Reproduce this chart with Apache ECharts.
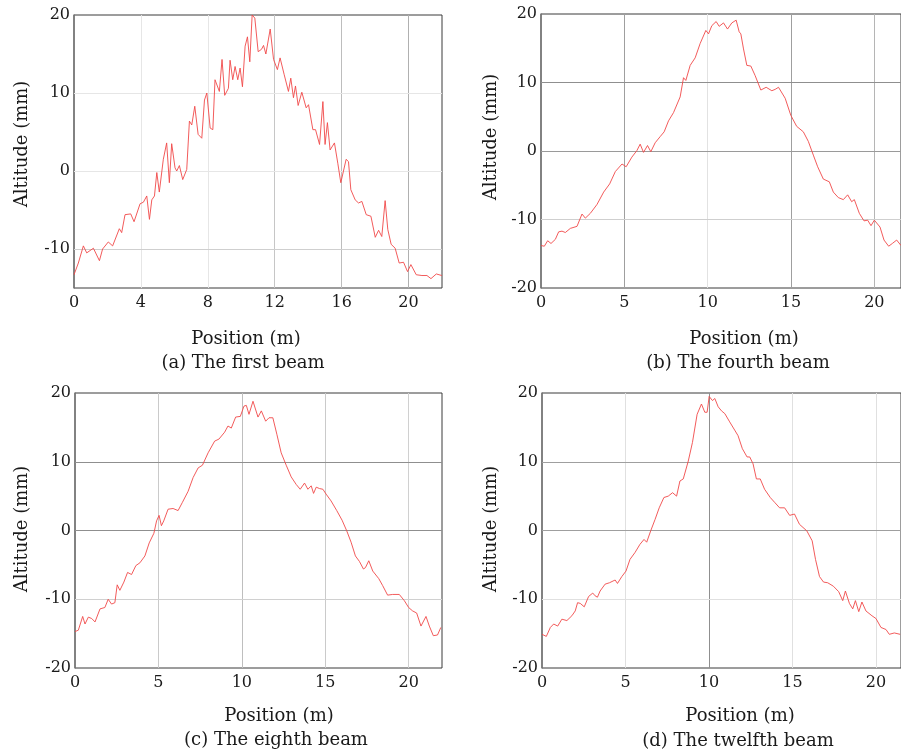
<!DOCTYPE html>
<html>
<head>
<meta charset="utf-8">
<script src="https://cdn.jsdelivr.net/npm/echarts@6/dist/echarts.min.js"></script>
<style>
  html, body { margin: 0; padding: 0; background: #fff; }
  #chart { width: 901px; height: 754px; }
</style>
</head>
<body>
<div id="chart"></div>
<script>
// Beam altitude profiles: position along the beam (m) and measured altitude (mm)
const beam1Pos = [0,0.26,0.56,0.76,1.16,1.52,1.71,2.05,2.31,2.71,2.85,3.05,3.39,3.59,3.95,4.15,4.35,4.51,4.65,4.81,4.95,5.10,5.34,5.54,5.70,5.84,6.04,6.14,6.30,6.50,6.74,6.90,7.04,7.22,7.42,7.64,7.80,7.94,8.14,8.30,8.43,8.69,8.85,9.01,9.23,9.33,9.49,9.63,9.79,9.93,10.07,10.23,10.37,10.51,10.65,10.81,11.01,11.21,11.33,11.47,11.73,11.93,12.16,12.32,12.56,12.82,12.96,13.12,13.24,13.40,13.62,13.88,14.02,14.28,14.44,14.68,14.88,15.01,15.15,15.31,15.57,15.77,15.95,16.27,16.41,16.55,16.81,17.01,17.21,17.47,17.75,18.01,18.21,18.40,18.60,18.76,18.96,19.20,19.44,19.70,19.94,20.14,20.46,20.80,21.10,21.34,21.66,21.99];
const beam1Alt = [-13.3,-11.8,-9.6,-10.5,-9.9,-11.5,-10,-9.1,-9.6,-7.4,-7.9,-5.6,-5.5,-6.5,-4.2,-4.0,-3.2,-6.2,-3.7,-3.2,-0.2,-2.7,1.5,3.6,-1.5,3.5,0.4,0,0.7,-1.1,0.2,6.4,5.9,8.3,4.7,4.2,9.1,10,5.5,5.3,11.7,10.2,14.3,9.7,10.6,14.2,11.7,13.4,11.7,13.2,10.8,16,17.2,14,20,19.6,15.3,15.6,16.1,15,18.2,14.3,13,14.5,12.4,10.2,11.9,9.4,10.9,8.4,10.1,8.1,8.5,5.3,5.3,3.4,8.9,3.4,6.2,2.7,3.6,1.0,-1.5,1.5,1.2,-2.4,-3.7,-4.1,-3.9,-5.6,-5.8,-8.5,-7.6,-8.4,-3.8,-7.5,-9.4,-9.9,-11.8,-11.7,-12.9,-12,-13.3,-13.4,-13.4,-13.8,-13.2,-13.4];

const beam4Pos = [0,0.20,0.40,0.60,0.86,1.06,1.26,1.46,1.76,2.16,2.46,2.66,2.96,3.36,3.76,4.12,4.46,4.86,5.11,5.45,5.75,5.95,6.15,6.39,6.59,6.85,7.15,7.39,7.65,7.95,8.35,8.55,8.69,8.95,9.25,9.55,9.89,10.05,10.25,10.51,10.69,10.95,11.19,11.45,11.71,11.89,11.99,12.15,12.35,12.59,12.85,13.19,13.51,13.85,14.05,14.25,14.65,14.99,15.34,15.74,16.04,16.34,16.60,16.94,17.30,17.54,17.84,18.14,18.40,18.64,18.80,19.10,19.38,19.60,19.80,20.00,20.34,20.58,20.86,21.08,21.34,21.60];
const beam4Alt = [-13.8,-13.9,-13.1,-13.5,-12.9,-11.8,-11.7,-11.9,-11.3,-11.0,-9.2,-9.8,-9.1,-7.8,-6.0,-4.8,-3.0,-1.9,-2.3,-0.9,0.05,1.0,-0.2,0.8,-0.1,1.2,2.1,2.8,4.4,5.6,7.9,10.7,10.3,12.5,13.6,15.7,17.6,17.1,18.3,18.9,18.2,18.7,17.8,18.7,19.1,17.4,17.1,14.9,12.5,12.4,11.0,8.9,9.3,8.8,9.0,9.3,7.7,5.2,3.6,2.8,1.4,-0.6,-2.3,-4.1,-4.5,-6.0,-6.8,-7.1,-6.4,-7.4,-7.1,-9.1,-10.2,-10.1,-10.9,-10.1,-11.1,-13.0,-13.9,-13.5,-13.0,-13.8];

const beam8Pos = [0,0.20,0.46,0.60,0.80,1.00,1.20,1.50,1.79,1.99,2.19,2.39,2.53,2.69,2.93,3.15,3.39,3.65,3.89,4.19,4.45,4.73,4.89,5.04,5.18,5.32,5.58,5.88,6.18,6.44,6.78,7.08,7.38,7.64,7.98,8.37,8.63,8.97,9.17,9.37,9.63,9.91,10.13,10.27,10.43,10.67,10.97,11.17,11.43,11.63,11.86,12.10,12.36,12.66,12.96,13.26,13.50,13.76,13.96,14.16,14.30,14.46,14.66,14.86,15.05,15.35,15.69,16.01,16.29,16.55,16.81,17.05,17.29,17.41,17.61,17.85,18.21,18.44,18.74,19.04,19.44,19.74,20.00,20.24,20.48,20.74,21.04,21.24,21.48,21.73,21.93];
const beam8Alt = [-14.7,-14.5,-12.5,-13.6,-12.6,-12.8,-13.3,-11.4,-11.2,-10.0,-10.7,-10.5,-7.9,-8.7,-7.5,-6.1,-6.4,-5.1,-4.7,-3.7,-1.8,-0.4,1.4,2.2,0.7,1.4,3.1,3.2,2.9,4.1,5.7,7.7,9.1,9.5,11.3,13.0,13.3,14.3,15.2,14.9,16.5,16.6,18.1,18.2,16.9,18.8,16.5,17.4,15.9,16.4,16.4,14.0,11.3,9.5,7.8,6.7,6.0,6.9,6.0,6.5,5.4,6.3,6.1,6.0,5.3,4.3,2.9,1.5,-0.05,-1.7,-3.7,-4.5,-5.6,-5.4,-4.4,-5.9,-7.0,-8.0,-9.4,-9.3,-9.3,-10.2,-11.2,-11.7,-12.0,-13.9,-12.5,-13.9,-15.3,-15.2,-14.1];

const beam12Pos = [0,0.26,0.50,0.70,0.94,1.19,1.49,1.79,1.99,2.13,2.29,2.53,2.79,3.04,3.18,3.32,3.48,3.78,4.04,4.38,4.52,4.78,5.03,5.27,5.57,5.87,6.11,6.27,6.51,6.77,7.02,7.30,7.56,7.82,8.06,8.26,8.46,8.76,9.01,9.29,9.55,9.75,9.89,10.01,10.21,10.35,10.55,10.75,10.95,11.24,11.54,11.74,12.00,12.28,12.44,12.64,12.84,13.07,13.33,13.67,13.93,14.23,14.53,14.83,15.12,15.42,15.86,16.18,16.38,16.62,16.86,17.11,17.45,17.77,18.01,18.17,18.41,18.61,18.77,18.97,19.16,19.40,19.50,19.76,20.00,20.30,20.60,20.80,21.10,21.45];
const beam12Alt = [-15.1,-15.4,-14.1,-13.6,-13.9,-12.9,-13.1,-12.4,-11.7,-10.5,-10.6,-11.1,-9.6,-9.1,-9.5,-9.7,-8.8,-7.8,-7.6,-7.2,-7.7,-6.7,-5.9,-4.2,-3.2,-2.0,-1.3,-1.7,-0.05,1.6,3.3,4.8,5.0,5.5,5.0,7.2,7.5,10.1,12.8,16.9,18.4,17.2,17.2,19.5,18.9,19.2,18.0,17.4,17.0,15.8,14.6,13.8,11.9,10.7,10.7,9.7,7.5,7.5,6.0,4.8,4.1,3.3,3.3,2.2,2.4,0.9,-0.05,-1.5,-4.2,-6.7,-7.5,-7.6,-8.1,-8.9,-10.2,-8.8,-10.6,-11.4,-10.2,-11.8,-10.4,-11.7,-11.5,-12.4,-12.8,-14.1,-14.4,-15.1,-14.9,-15.1];

// Grid-line positions (tick values) for each panel
const beam1XTicks = [4, 8, 12, 16, 20];
const beam1YTicks = [-10, 0, 10];
const beam4XTicks = [5, 10, 15, 20];
const beam4YTicks = [-10, 0, 10];
const beam8XTicks = [5, 10, 15, 20];
const beam8YTicks = [-10, 0, 10];
const beam12XTicks = [5, 10, 15, 20];
const beam12YTicks = [-10, 0, 10];

const captions = ['(a) The first beam', '(b) The fourth beam', '(c) The eighth beam', '(d) The twelfth beam'];
const xTitle = 'Position (m)';
const yTitle = 'Altitude (mm)';

const FONT = '"DejaVu Serif", "Liberation Serif", serif';
const INK = '#1a1a1a';

const panels = [
  { pos: beam1Pos, alt: beam1Alt, xTicks: beam1XTicks, yTicks: beam1YTicks,
    box: { left: 74, top: 15, width: 368, height: 273 },
    xMax: 22, xStep: 4, yMin: -15, yStep: 5,
    xColors: ['#e6e6e6', '#e6e6e6', '#c6c6c6', '#bdbdbd', '#b0b0b0'],
    yColors: ['#cfcfcf', '#e6e6e6', '#e6e6e6'],
    yTitleAt: [22, 144], xTitleAt: [246, 339], capAt: [243, 363] },
  { pos: beam4Pos, alt: beam4Alt, xTicks: beam4XTicks, yTicks: beam4YTicks,
    box: { left: 541, top: 14, width: 360, height: 274 },
    xMax: 21.6, xStep: 5, yMin: -20, yStep: 10,
    xColors: ['#9f9f9f', '#e2e2e2', '#9f9f9f', '#b5b5b5'],
    yColors: ['#cfcfcf', '#9a9a9a', '#8f8f8f'],
    yTitleAt: [491, 137], xTitleAt: [744, 339], capAt: [738, 363] },
  { pos: beam8Pos, alt: beam8Alt, xTicks: beam8XTicks, yTicks: beam8YTicks,
    box: { left: 75, top: 393, width: 367, height: 275 },
    xMax: 22, xStep: 5, yMin: -20, yStep: 10,
    xColors: ['#cacaca', '#bebebe', '#cacaca', '#d0d0d0'],
    yColors: ['#d0d0d0', '#8f8f8f', '#8f8f8f'],
    yTitleAt: [22, 529], xTitleAt: [279, 716], capAt: [276, 740] },
  { pos: beam12Pos, alt: beam12Alt, xTicks: beam12XTicks, yTicks: beam12YTicks,
    box: { left: 542, top: 393, width: 359, height: 275 },
    xMax: 21.5, xStep: 5, yMin: -20, yStep: 10,
    xColors: ['#e0e0e0', '#8f8f8f', '#e0e0e0', '#e0e0e0'],
    yColors: ['#e0e0e0', '#9f9f9f', '#9f9f9f'],
    yTitleAt: [491, 529], xTitleAt: [740, 716], capAt: [738, 741] }
];

const grid = [], xAxis = [], yAxis = [], series = [], graphic = [];

panels.forEach((p, i) => {
  grid.push(Object.assign({ show: true, borderColor: '#3a3a3a', borderWidth: 1,
                            backgroundColor: 'transparent', containLabel: false }, p.box));

  xAxis.push({
    type: 'value', gridIndex: i, min: 0, max: p.xMax, interval: p.xStep,
    axisLine: { show: false }, axisTick: { show: false }, splitLine: { show: false },
    axisLabel: { showMaxLabel: false, margin: 7, color: INK, fontFamily: FONT, fontSize: 16 }
  });

  yAxis.push({
    type: 'value', gridIndex: i, min: p.yMin, max: 20, interval: p.yStep,
    axisLine: { show: true, onZero: false, lineStyle: { color: '#7a7a7a', width: 1.5 } },
    axisTick: { show: false }, splitLine: { show: false },
    axisLabel: {
      margin: 4, color: INK, fontFamily: FONT, fontSize: 16,
      formatter: v => (v % 10 === 0 ? String(v) : '')
    }
  });

  const gridLines = p.xTicks.map((v, k) => ({ xAxis: v, lineStyle: { color: p.xColors[k] } }))
    .concat(p.yTicks.map((v, k) => ({ yAxis: v, lineStyle: { color: p.yColors[k] } })));

  series.push({
    type: 'line', xAxisIndex: i, yAxisIndex: i,
    data: p.pos.map((x, k) => [x, p.alt[k]]),
    showSymbol: false, symbol: 'none', clip: true, z: 3,
    lineStyle: { color: '#f04848', width: 0.9 },
    markLine: {
      silent: true, symbol: 'none', z: 1, animation: false,
      label: { show: false },
      lineStyle: { type: 'solid', width: 1 },
      data: gridLines
    }
  });

  graphic.push({
    type: 'text', x: p.yTitleAt[0], y: p.yTitleAt[1], rotation: Math.PI / 2,
    style: { text: yTitle, fill: INK, font: '18px ' + FONT, textAlign: 'center', textVerticalAlign: 'middle' }
  });
  graphic.push({
    type: 'text', x: p.xTitleAt[0], y: p.xTitleAt[1],
    style: { text: xTitle, fill: INK, font: '18px ' + FONT, textAlign: 'center', textVerticalAlign: 'middle' }
  });
  graphic.push({
    type: 'text', x: p.capAt[0], y: p.capAt[1],
    style: { text: captions[i], fill: INK, font: '18px ' + FONT, textAlign: 'center', textVerticalAlign: 'middle' }
  });
});

const chart = echarts.init(document.getElementById('chart'), null, { renderer: 'canvas' });
chart.setOption({
  animation: false,
  backgroundColor: '#ffffff',
  grid, xAxis, yAxis, series, graphic
});
</script>
</body>
</html>
